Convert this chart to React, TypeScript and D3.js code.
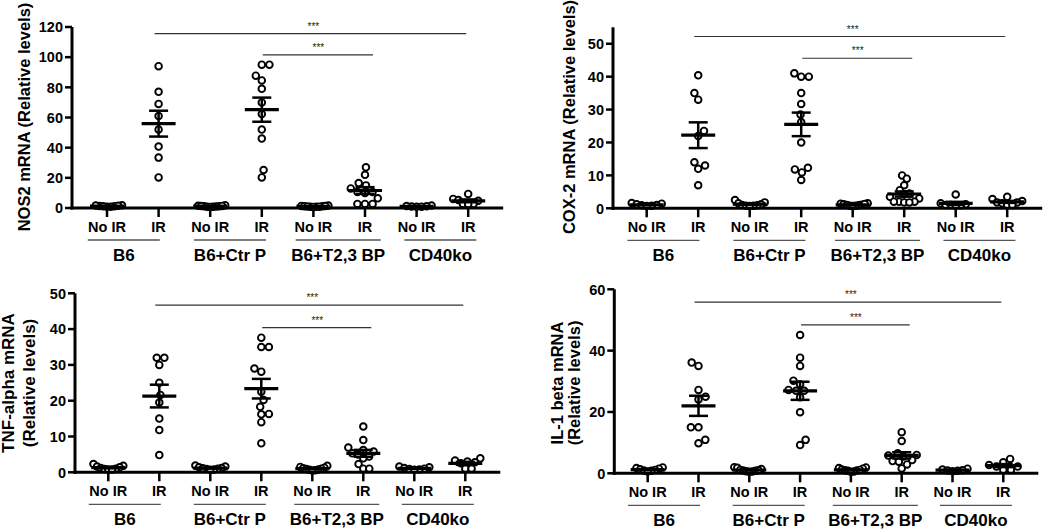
import React from "react";
import * as d3 from "d3";

// ---------- DATA ----------
const groups = ["B6", "B6+Ctr P", "B6+T2,3 BP", "CD40ko"];
const conditions = ["No IR", "IR"];

// each gene: 8 columns in order B6 NoIR, B6 IR, CtrP NoIR, CtrP IR, T2,3 NoIR, T2,3 IR, CD40ko NoIR, CD40ko IR
const nos2Values: number[][] = [
  [1.2, 1.8, 1.5, 0.9, 1.3, 1.6, 0.8, 1.1],
  [94, 77, 69, 61, 52, 40.7, 33.4, 20.3],
  [1.5, 1.9, 1.2, 1.0, 1.4, 0.8, 1.1, 0.9, 1.3, 0.7],
  [95, 95, 87.7, 84.6, 79, 70, 62.3, 52, 46, 25.2, 20.3],
  [1.4, 1.6, 1.1, 0.9, 1.2, 0.8, 1.0, 1.3, 0.7, 0.9],
  [27, 22, 16.5, 15, 13, 10.6, 10.6, 10, 6.4, 2.7, 2.7, 2.7],
  [1.6, 1.0, 1.3, 0.8, 1.1, 0.9],
  [9.3, 6, 5.3, 4.8, 2.7, 2.6, 2.5],
];
const cox2Values: number[][] = [
  [1.6, 1.4, 1.2, 1.0, 0.9, 0.8, 0.7],
  [40.4, 35, 33, 23.5, 22, 14, 13, 12, 7],
  [2.5, 1.8, 1.5, 1.2, 1.0, 0.9, 0.8, 0.8, 0.7],
  [41, 40, 40, 35, 31.7, 28.5, 26.2, 20, 12.3, 11.8, 10.9, 8.6],
  [1.5, 1.4, 1.2, 1.1, 1.0, 0.9, 0.8, 0.8, 0.7, 1.3],
  [10, 9, 7, 5.5, 4.5, 4.3, 3.5, 3, 2, 2, 2, 1.8, 1.8],
  [4.2, 1.5, 1.2, 1.0, 1.0, 0.9, 0.8],
  [3.5, 2.8, 2.2, 1.8, 1.8, 1.5, 1.0, 1.0],
];
const tnfValues: number[][] = [
  [2.3, 1.8, 1.6, 1.4, 1.2, 1.0, 0.9, 0.8, 0.8],
  [32, 32, 30, 25, 21.6, 19.5, 15, 11.8, 4.8],
  [1.9, 1.6, 1.4, 1.2, 1.0, 0.9, 0.8, 0.7, 1.1],
  [37.6, 35, 35, 29, 28.1, 22.5, 20.2, 18.3, 16.3, 16.2, 14, 8.1],
  [1.8, 1.5, 1.3, 1.1, 1.0, 0.9, 0.8, 0.7, 0.6, 0.5],
  [12.8, 9, 6.9, 6.2, 5.8, 5.3, 5, 4.4, 3.9, 2.3, 1, 1],
  [1.6, 1.4, 1.2, 1.0, 0.9, 0.8, 0.7],
  [3.9, 3.3, 3, 2.8, 2.5, 1, 1],
];
const il1Values: number[][] = [
  [1.9, 1.7, 1.5, 1.3, 1.1, 0.9, 0.8, 0.6],
  [36.1, 35, 27.2, 25, 24.1, 15, 15, 10.9, 9.8],
  [2.0, 1.8, 1.4, 1.1, 0.9, 0.8, 0.7, 0.6, 0.5, 1.0],
  [45.1, 37.7, 35, 30.2, 29, 27.2, 26.9, 26.9, 24.8, 19.9, 10.9, 9.2],
  [1.9, 1.7, 1.5, 1.2, 1.0, 0.8, 0.6, 0.5, 0.9, 1.1],
  [13.4, 10.5, 6.5, 6, 5.8, 5.5, 4.3, 4, 3.8, 2.9, 1.6],
  [1.5, 1.2, 1.0, 0.9, 0.8, 0.7],
  [4.7, 3.6, 2.7, 2.2, 2.2, 1.1, 1.1],
];

const nos2Ticks = [0, 20, 40, 60, 80, 100, 120];
const cox2Ticks = [0, 10, 20, 30, 40, 50];
const tnfTicks = [0, 10, 20, 30, 40, 50];
const il1Ticks = [0, 20, 40, 60];

const sigLabel = "***";

// ---------- LAYOUT ----------
type PanelCfg = {
  values: number[][];
  ticks: number[];
  yMax: number;
  axisX: number;
  firstX: number;
  step: number;
  zeroY: number;
  topY: number;
  label: string[];
  labelX: number[];
  labelCY: number;
  labelSize: number;
  sigY: [number, number];
};

const panels: PanelCfg[] = [
  {
    values: nos2Values, ticks: nos2Ticks, yMax: 120,
    axisX: 72, firstX: 107, step: 51.6, zeroY: 208, topY: 27,
    label: ["NOS2 mRNA (Relative levels)"], labelX: [29.5], labelCY: 117, labelSize: 16.5,
    sigY: [115.6, 101.5],
  },
  {
    values: cox2Values, ticks: cox2Ticks, yMax: 55,
    axisX: 613, firstX: 646.7, step: 51.5, zeroY: 208.3, topY: 27.3,
    label: ["COX-2 mRNA (Relative levels)"], labelX: [574.5], labelCY: 117, labelSize: 16.5,
    sigY: [52.2, 45.6],
  },
  {
    values: tnfValues, ticks: tnfTicks, yMax: 50,
    axisX: 75, firstX: 108.3, step: 51, zeroY: 472.3, topY: 293.3,
    label: ["TNF-alpha mRNA", "(Relative levels)"], labelX: [14, 35], labelCY: 383, labelSize: 17,
    sigY: [46.7, 40.4],
  },
  {
    values: il1Values, ticks: il1Ticks, yMax: 60,
    axisX: 614.3, firstX: 647.7, step: 50.8, zeroY: 473.3, topY: 289.3,
    label: ["IL-1 beta mRNA", "(Relative levels)"], labelX: [563, 580], labelCY: 383, labelSize: 16.5,
    sigY: [55.8, 48.4],
  },
];

const groupShift = [-9, -6, -1, -2];
const underlineW = [72, 72, 85, 72];

const FONT = "'Liberation Sans', Arial, Helvetica, sans-serif";
const R = 3.3;

function swarm(values: number[], y: (v: number) => number, d: number, maxW: number) {
  const pts = values.map((v) => ({ v, py: y(v), x: 0 }));
  const order = [...pts].sort((a, b) => b.py - a.py);
  const placed: { py: number; x: number }[] = [];
  let side = 1;
  for (const p of order) {
    const cands = [0];
    for (const q of placed) {
      const dy = Math.abs(p.py - q.py);
      if (dy < d) {
        const dx = Math.sqrt(d * d - dy * dy);
        cands.push(q.x + dx, q.x - dx);
      }
    }
    const valid = cands.filter((c) =>
      placed.every((q) => {
        const dy = p.py - q.py;
        const dx = c - q.x;
        return dx * dx + dy * dy >= d * d - 1e-6;
      })
    );
    valid.sort((a, b) => {
      const diff = Math.abs(a) - Math.abs(b);
      if (Math.abs(diff) > 0.01) return diff;
      return a * side > 0 ? -1 : 1;
    });
    p.x = valid[0];
    if (p.x !== 0) side = -Math.sign(p.x);
    placed.push(p);
  }
  const m = d3.max(pts, (p) => Math.abs(p.x)) || 0;
  const s = m > maxW ? maxW / m : 1;
  return pts.map((p) => ({ v: p.v, dx: p.x * s }));
}

function Panel({ cfg }: { cfg: PanelCfg }) {
  const cats = groups.flatMap((g) => conditions.map((c) => `${g}|${c}`));
  const x = d3.scalePoint<string>().domain(cats).range([cfg.firstX, cfg.firstX + 7 * cfg.step]);
  const y = d3.scaleLinear().domain([0, cfg.yMax]).range([cfg.zeroY, cfg.topY]);
  const axisEnd = (x(cats[7]) as number) + 35;

  const xB6IR = x(cats[1]) as number;
  const xCtrIR = x(cats[3]) as number;
  const xT23IR = x(cats[5]) as number;
  const xCDIR = x(cats[7]) as number;

  return (
    <g>
      {cfg.label.map((t, i) => (
        <text
          key={i}
          transform={`translate(${cfg.labelX[i]},${cfg.labelCY}) rotate(-90)`}
          textAnchor="middle"
          fontFamily={FONT}
          fontWeight="bold"
          fontSize={cfg.labelSize}
          fill="#000"
        >
          {t}
        </text>
      ))}
      {cfg.ticks.map((t) => (
        <g key={t}>
          <line x1={cfg.axisX - 7} x2={cfg.axisX} y1={y(t)} y2={y(t)} stroke="#000" strokeWidth={2.5} />
          <text
            x={cfg.axisX - 9}
            y={y(t)}
            dy="0.36em"
            textAnchor="end"
            fontFamily={FONT}
            fontWeight="bold"
            fontSize={14.5}
          >
            {t}
          </text>
        </g>
      ))}
      {cats.map((c, i) => (
        <g key={c}>
          <line x1={x(c)} x2={x(c)} y1={cfg.zeroY} y2={cfg.zeroY + 9} stroke="#000" strokeWidth={2.5} />
          <text
            x={x(c)}
            y={cfg.zeroY + 23.5}
            textAnchor="middle"
            fontFamily={FONT}
            fontWeight="bold"
            fontSize={14.5}
          >
            {conditions[i % 2]}
          </text>
        </g>
      ))}
      {groups.map((g, gi) => {
        const cx = ((x(cats[gi * 2]) as number) + (x(cats[gi * 2 + 1]) as number)) / 2 + groupShift[gi];
        return (
          <g key={g}>
            <line
              x1={cx - underlineW[gi] / 2}
              x2={cx + underlineW[gi] / 2}
              y1={cfg.zeroY + 32}
              y2={cfg.zeroY + 32}
              stroke="#555"
              strokeWidth={1.3}
            />
            <text
              x={cx}
              y={cfg.zeroY + 52.5}
              textAnchor="middle"
              fontFamily={FONT}
              fontWeight="bold"
              fontSize={17}
            >
              {g}
            </text>
          </g>
        );
      })}
      {cfg.values.map((vals, ci) => {
        const cx = x(cats[ci]) as number;
        const pts = swarm(vals, y, 7.6, 15);
        return (
          <g key={ci}>
            {pts.map((p, k) => (
              <circle key={k} cx={cx + p.dx} cy={y(p.v)} r={R} fill="#fff" stroke="#000" strokeWidth={1.9} />
            ))}
          </g>
        );
      })}
      {cfg.values.map((vals, ci) => {
        const cx = x(cats[ci]) as number;
        const mean = d3.mean(vals) as number;
        const sem = (d3.deviation(vals) as number) / Math.sqrt(vals.length);
        return (
          <g key={ci} stroke="#000">
            <line x1={cx - 17} x2={cx + 17} y1={y(mean)} y2={y(mean)} strokeWidth={3.2} />
            <line x1={cx} x2={cx} y1={y(mean - sem)} y2={y(mean + sem)} strokeWidth={2.5} />
            <line x1={cx - 9.5} x2={cx + 9.5} y1={y(mean + sem)} y2={y(mean + sem)} strokeWidth={2.5} />
            <line x1={cx - 9.5} x2={cx + 9.5} y1={y(mean - sem)} y2={y(mean - sem)} strokeWidth={2.5} />
          </g>
        );
      })}
      <line x1={cfg.axisX} x2={cfg.axisX} y1={cfg.zeroY + 1.5} y2={y(cfg.yMax)} stroke="#000" strokeWidth={3} />
      <line x1={cfg.axisX - 1.5} x2={axisEnd} y1={cfg.zeroY} y2={cfg.zeroY} stroke="#000" strokeWidth={3} />
      <line x1={xB6IR - 4} x2={xCDIR - 2} y1={y(cfg.sigY[0])} y2={y(cfg.sigY[0])} stroke="#333" strokeWidth={1.2} />
      <text
        x={(xB6IR + xCDIR) / 2}
        y={y(cfg.sigY[0]) - 4}
        textAnchor="middle"
        fontFamily={FONT}
        fontSize={10}
        fill="#222"
      >
        {sigLabel}
      </text>
      <line x1={xCtrIR + 1} x2={xT23IR + 8} y1={y(cfg.sigY[1])} y2={y(cfg.sigY[1])} stroke="#333" strokeWidth={1.2} />
      <text
        x={(xCtrIR + xT23IR) / 2 + 5}
        y={y(cfg.sigY[1]) - 4}
        textAnchor="middle"
        fontFamily={FONT}
        fontSize={10}
        fill="#222"
      >
        {sigLabel}
      </text>
    </g>
  );
}

export default function App() {
  return (
    <svg
      width={1050}
      height={530}
      style={{ position: "absolute", left: 0, top: 0, background: "#fff" }}
    >
      <rect width={1050} height={530} fill="#fff" />
      {panels.map((p, i) => (
        <Panel key={i} cfg={p} />
      ))}
    </svg>
  );
}
